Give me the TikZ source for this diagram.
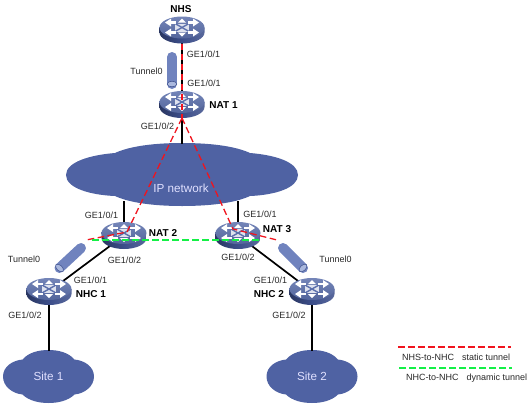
\documentclass[tikz,border=0pt]{standalone}
\usepackage{fontspec}
\setmainfont{Liberation Sans}
\usetikzlibrary{shapes.geometric}
\definecolor{rtop}{RGB}{92,112,172}
\definecolor{rside}{RGB}{60,78,138}
\definecolor{cloudc}{RGB}{79,98,163}
\definecolor{tubec}{RGB}{112,131,190}
\definecolor{tubee}{RGB}{170,184,222}
\definecolor{redl}{RGB}{240,20,30}
\definecolor{greenl}{RGB}{20,240,70}
\definecolor{txt}{RGB}{40,40,40}
\tikzset{
  lbl/.style={font=\fontsize{9}{10}\selectfont,text=txt,inner sep=0pt},
  namelbl/.style={font=\fontsize{10}{11}\selectfont\bfseries,text=black,inner sep=0pt},
  link/.style={draw=black,line width=1.7pt},
  tstatic/.style={draw=redl,line width=1.3pt,dash pattern=on 6.5pt off 3.5pt},
  tdyn/.style={draw=greenl,line width=1.3pt,dash pattern=on 6.5pt off 3.5pt},
  anchorpt/.style={ellipse,minimum width=45pt,minimum height=27pt,inner sep=0pt},
  cloudlbl/.style={font=\fontsize{11.7}{13}\selectfont,text=white!88!blue,inner sep=0pt},
}
% router node (for connectors): name, x, y of top-face centre
\newcommand{\routernode}[3]{\node[anchorpt] (#1) at (#2,#3+2.5) {};}
% router drawing: x, y of top-face centre
\newcommand{\routerdev}[2]{%
  \begin{scope}[shift={(#1,#2)}]
    \shade[left color=rside!70!black,right color=rside!85,middle color=rside] (-22.5,0) -- (-22.5,5) arc[start angle=180,end angle=0,x radius=22.5,y radius=11] -- (22.5,0) -- cycle;
    \shade[top color=rtop!85!white,bottom color=rtop!90!black] (0,0) ellipse[x radius=22.5,y radius=11];
    \fill[white!80!rtop] (-7,-4) -- (7,-4) -- (7,4) -- (-7,4) -- cycle;
    \begin{scope}[rtop,line width=1.4pt]
      \draw (-7,-4) -- (7,4);
      \draw (-7,4) -- (7,-4);
    \end{scope}
    \begin{scope}[white,line width=2.2pt]
      \draw (-13,-5) -- (-6,-5);
      \draw (6,-5) -- (13,-5);
      \draw (-13,5) -- (-6,5);
      \draw (6,5) -- (13,5);
      \fill (-17,-5) -- (-11,-9) -- (-11,-1) -- cycle;
      \fill (17,-5) -- (11,-9) -- (11,-1) -- cycle;
      \fill (-17,5) -- (-11,1) -- (-11,9) -- cycle;
      \fill (17,5) -- (11,1) -- (11,9) -- cycle;
      \fill (0,-9) -- (-4,-5) -- (4,-5) -- cycle;
      \fill (0,9) -- (-4,5) -- (4,5) -- cycle;
    \end{scope}
  \end{scope}%
}
% tube: x1 y1 x2 y2 angle; the second end shows the open face
\newcommand{\tubedev}[5]{%
  \draw[tubec,line width=10pt,line cap=round] (#1,#2) -- (#3,#4);
  \fill[tubee,draw=rside,line width=.5pt,rotate around={#5:(#3,#4)}] (#3,#4) ellipse[x radius=4.8,y radius=2.8];
}
% small cloud centred at x,y
\newcommand{\sitecloud}[2]{%
  \fill[cloudc,shift={(#1,#2)}] (-45.5,0)
    .. controls (-45.5,-10) and (-36,-16) .. (-26,-17)
    .. controls (-20,-24) and (-10,-26.5) .. (0,-26.5)
    .. controls (10,-26.5) and (20,-24) .. (26,-17)
    .. controls (36,-16) and (45.5,-10) .. (45.5,0)
    .. controls (45.5,10) and (36,17) .. (26,18)
    .. controls (20,24) and (10,26.5) .. (0,26.5)
    .. controls (-10,26.5) and (-20,24) .. (-26,18)
    .. controls (-36,17) and (-45.5,10) .. (-45.5,0) -- cycle;
}
\begin{document}
\begin{tikzpicture}[x=1pt,y=-1pt]
\useasboundingbox (0,0) rectangle (531,408);
% IP cloud
\fill[cloudc] (66,175)
  .. controls (66,162) and (90,155) .. (115,153)
  .. controls (130,146) and (155,143) .. (182,143)
  .. controls (210,143) and (235,146) .. (250,153)
  .. controls (275,155) and (298,162) .. (298,175)
  .. controls (298,188) and (275,195) .. (250,196)
  .. controls (235,203) and (210,206) .. (182,206)
  .. controls (155,206) and (130,203) .. (115,196)
  .. controls (90,195) and (66,188) .. (66,175) -- cycle;
\coordinate (ipn) at (182,144);
\coordinate (ips2) at (124,201);
\coordinate (ips3) at (238,201);
\sitecloud{48.5}{376.5}
\sitecloud{312}{376.5}
\coordinate (site1top) at (49,351);
\coordinate (site2top) at (312,351);
% node anchors for the devices
\routernode{nhs}{182}{27.5}
\routernode{nat1}{182}{102}
\routernode{nat2}{124}{233}
\routernode{nat3}{238}{233}
\routernode{nhc1}{49}{289}
\routernode{nhc2}{312}{289}
% links, under the devices
\draw[link] (nhs.center) -- (nat1.center);
\draw[link] (nat1.center) -- (ipn);
\draw[link] (ips2) -- (nat2.center);
\draw[link] (ips3) -- (nat3.center);
\draw[link] (nat2.center) -- (nhc1.center);
\draw[link] (nat3.center) -- (nhc2.center);
\draw[link] (nhc1.center) -- (site1top);
\draw[link] (nhc2.center) -- (site2top);
% tubes
\tubedev{172}{57}{172}{84}{0}
\tubedev{81}{248}{59.5}{268}{-43}
\tubedev{283}{248}{303}{268}{43}
% devices
\routerdev{182}{27.5}
\routerdev{182}{102}
\routerdev{124}{233}
\routerdev{238}{233}
\routerdev{49}{289}
\routerdev{312}{289}
% tunnels
\coordinate (ra) at (182,118);
\coordinate (n2r) at (127,232);
\coordinate (n3r) at (233,229);
\coordinate (le) at (86,240);
\coordinate (re) at (277,240);
\coordinate (gl) at (92,240);
\coordinate (gr) at (260,240);
\draw[tstatic] (nhs.south) -- (ra);
\draw[tstatic] (ra) -- (n2r) -- (le);
\draw[tstatic] (ra) -- (n3r) -- (re);
\draw[tdyn] (gl) -- (gr);
% labels
\node[namelbl] (t1) at (181,9) {NHS};
\node[namelbl] (t2) at (223.5,105) {NAT 1};
\node[namelbl] (t3) at (163,233) {NAT 2};
\node[namelbl] (t4) at (277,229) {NAT 3};
\node[namelbl] (t5) at (91,294) {NHC 1};
\node[namelbl] (t6) at (269,294) {NHC 2};
\node[lbl] (a1) at (203.5,54) {GE1/0/1};
\node[lbl] (a2) at (204,83) {GE1/0/1};
\node[lbl] (a3) at (157.5,126) {GE1/0/2};
\node[lbl] (a4) at (101.5,215) {GE1/0/1};
\node[lbl] (a5) at (124.5,260) {GE1/0/2};
\node[lbl] (a6) at (90.5,280) {GE1/0/1};
\node[lbl] (a7) at (25,315) {GE1/0/2};
\node[lbl] (a8) at (260,214) {GE1/0/1};
\node[lbl] (a9) at (238,257) {GE1/0/2};
\node[lbl] (a10) at (270.5,280) {GE1/0/1};
\node[lbl] (a11) at (289,315) {GE1/0/2};
\node[lbl] (b1) at (146.5,71) {Tunnel0};
\node[lbl] (b2) at (24,259) {Tunnel0};
\node[lbl] (b3) at (335.5,259) {Tunnel0};
\node[cloudlbl] (ipt) at (181,188) {IP network};
\node[cloudlbl] (s1) at (48.5,376) {Site 1};
\node[cloudlbl] (s2) at (312,376) {Site 2};
% legend
\coordinate (l1a) at (398,347); \coordinate (l1b) at (511,347);
\coordinate (l2a) at (399,368); \coordinate (l2b) at (512,368);
\draw[tstatic] (l1a) -- (l1b);
\draw[tdyn] (l2a) -- (l2b);
\node[lbl,anchor=west] (lg1) at (402,357) {NHS-to-NHC\hspace{8pt}static tunnel};
\node[lbl,anchor=west] (lg2) at (406,378) {NHC-to-NHC\hspace{8pt}dynamic tunnel};
\end{tikzpicture}
\end{document}
